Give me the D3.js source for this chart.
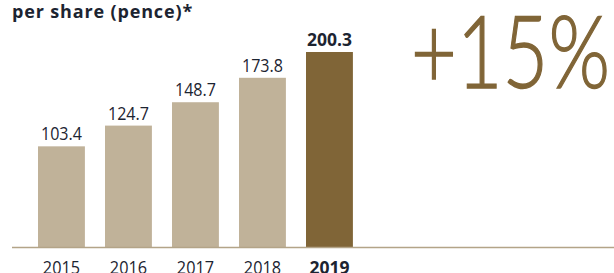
<!DOCTYPE html>
<html>
<head>
<meta charset="utf-8">
<script src="https://cdn.jsdelivr.net/npm/d3@7"></script>
<style>
  body { margin: 0; background: #fff; }
  svg { display: block; }
</style>
</head>
<body>
<div id="chart"></div>
<script>
const years = ['2015', '2016', '2017', '2018', '2019'];
const values = [103.4, 124.7, 148.7, 173.8, 200.3];
const highlight = '2019';
const title = 'per share (pence)*';
const growth = '+15%';

const width = 614, height = 273;
const svg = d3.select('#chart').append('svg')
    .attr('width', width)
    .attr('height', height);

const font = '"Open Sans", "Noto Sans", sans-serif';
const dark = '#1c2431';
const gold = '#806537';
const light = '#c0b299';

const x = d3.scaleBand()
    .domain(years)
    .range([38 - 67 * 0.3 / 2, 38 - 67 * 0.3 / 2 + 67 * 5])
    .paddingInner(0.3)
    .paddingOuter(0.15);

const y = d3.scaleLinear()
    .domain([0, 200.3])
    .range([247, 52]);

// title
svg.append('text')
    .attr('x', 12)
    .attr('y', 18)
    .attr('font-family', font)
    .attr('font-weight', 700)
    .attr('font-size', 18)
    .attr('letter-spacing', 0.85)
    .attr('fill', dark)
    .text(title);

// bars
svg.selectAll('rect.bar')
    .data(years)
    .join('rect')
    .attr('class', 'bar')
    .attr('x', d => x(d))
    .attr('width', x.bandwidth())
    .attr('y', (d, i) => y(values[i]))
    .attr('height', (d, i) => y(0) - y(values[i]))
    .attr('fill', d => d === highlight ? gold : light);

// value labels (slightly condensed, like the original face)
svg.selectAll('text.val')
    .data(years)
    .join('text')
    .attr('class', 'val')
    .attr('transform', (d, i) =>
        `translate(${x(d) + x.bandwidth() / 2},${y(values[i]) - 6}) scale(${d === highlight ? 1 : 0.92},1)`)
    .attr('text-anchor', 'middle')
    .attr('font-family', font)
    .attr('font-size', 17.5)
    .attr('font-weight', d => d === highlight ? 700 : 400)
    .attr('fill', dark)
    .text((d, i) => values[i].toFixed(1));

// baseline
svg.append('line')
    .attr('x1', 12)
    .attr('x2', width)
    .attr('y1', y(0) + 0.5)
    .attr('y2', y(0) + 0.5)
    .attr('stroke', '#b3a488')
    .attr('stroke-width', 1.5);

// year axis
const axis = svg.append('g')
    .attr('transform', `translate(0,${y(0)})`)
    .call(d3.axisBottom(x).tickSize(0).tickPadding(0));
axis.select('.domain').remove();
axis.selectAll('text')
    .attr('dy', null)
    .attr('y', 0)
    .attr('transform', d => `translate(0,27) scale(${d === highlight ? 1 : 0.93},1)`)
    .attr('font-family', font)
    .attr('font-size', 17.5)
    .attr('font-weight', d => d === highlight ? 700 : 400)
    .attr('fill', dark);

// growth figure
svg.append('text')
    .attr('x', 411)
    .attr('y', 88)
    .attr('font-family', 'Lato, sans-serif')
    .attr('font-weight', 300)
    .attr('font-size', 101)
    .attr('textLength', 199)
    .attr('lengthAdjust', 'spacingAndGlyphs')
    .attr('fill', gold)
    .attr('stroke', gold)
    .attr('stroke-width', 1.4)
    .text(growth);
</script>
</body>
</html>
